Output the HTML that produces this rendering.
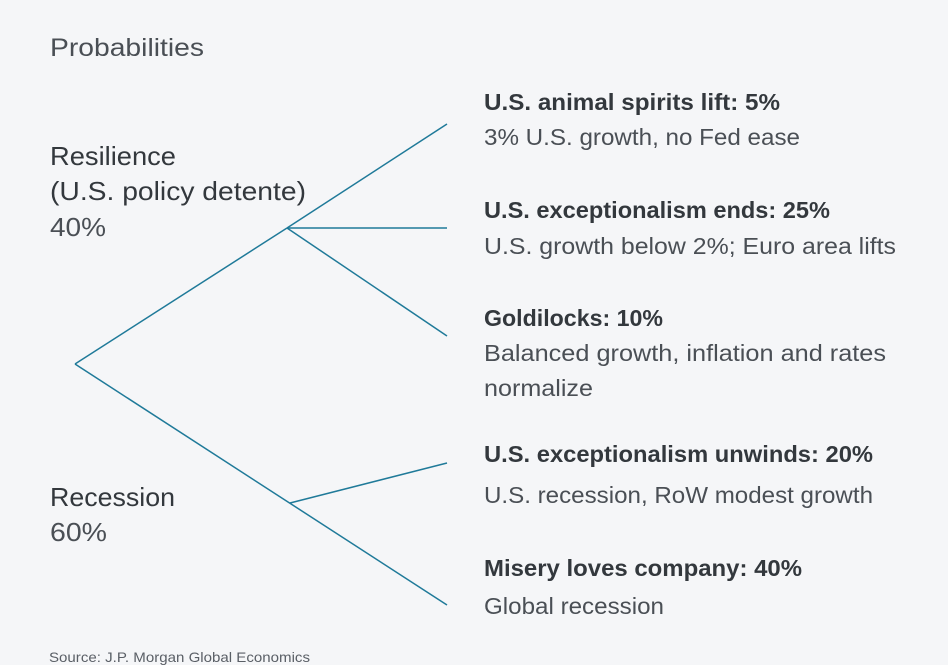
<!DOCTYPE html>
<html><head><meta charset="utf-8"><style>
html,body{margin:0;padding:0;background:#f5f6f8;}
svg{display:block;font-family:"Liberation Sans",sans-serif;}
</style></head><body>
<svg width="948" height="665" viewBox="0 0 948 665">
<rect width="948" height="665" fill="#f5f6f8"/>
<text x="50" y="56" font-size="25" fill="#4a4f55" textLength="154" lengthAdjust="spacingAndGlyphs">Probabilities</text>
<g id="edges"></g>
<g fill="#33383d" font-size="26" lengthAdjust="spacingAndGlyphs">
<text x="50" y="165" textLength="126" lengthAdjust="spacingAndGlyphs">Resilience</text>
<text x="50" y="200" textLength="256" lengthAdjust="spacingAndGlyphs">(U.S. policy detente)</text>
<text x="50" y="236" fill="#4a4f55" textLength="56" lengthAdjust="spacingAndGlyphs">40%</text>
<text x="50" y="506" textLength="125" lengthAdjust="spacingAndGlyphs">Recession</text>
<text x="50" y="541" fill="#4a4f55" textLength="57" lengthAdjust="spacingAndGlyphs">60%</text>
</g>
<g font-size="23">
<text x="484" y="110" fill="#33383d" font-weight="bold" textLength="296" lengthAdjust="spacingAndGlyphs">U.S. animal spirits lift: 5%</text>
<text x="484" y="145" fill="#4a4f55" textLength="316" lengthAdjust="spacingAndGlyphs">3% U.S. growth, no Fed ease</text>
<text x="484" y="218" fill="#33383d" font-weight="bold" textLength="346" lengthAdjust="spacingAndGlyphs">U.S. exceptionalism ends: 25%</text>
<text x="484" y="254" fill="#4a4f55" textLength="412" lengthAdjust="spacingAndGlyphs">U.S. growth below 2%; Euro area lifts</text>
<text x="484" y="326" fill="#33383d" font-weight="bold" textLength="179" lengthAdjust="spacingAndGlyphs">Goldilocks: 10%</text>
<text x="484" y="361" fill="#4a4f55" textLength="402" lengthAdjust="spacingAndGlyphs">Balanced growth, inflation and rates</text>
<text x="484" y="396" fill="#4a4f55" textLength="109" lengthAdjust="spacingAndGlyphs">normalize</text>
<text x="484" y="462" fill="#33383d" font-weight="bold" textLength="389" lengthAdjust="spacingAndGlyphs">U.S. exceptionalism unwinds: 20%</text>
<text x="484" y="503" fill="#4a4f55" textLength="389" lengthAdjust="spacingAndGlyphs">U.S. recession, RoW modest growth</text>
<text x="484" y="576" fill="#33383d" font-weight="bold" textLength="318" lengthAdjust="spacingAndGlyphs">Misery loves company: 40%</text>
<text x="484" y="614" fill="#4a4f55" textLength="180" lengthAdjust="spacingAndGlyphs">Global recession</text>
</g>
<text x="49" y="662" font-size="14" fill="#5a5f66" textLength="261" lengthAdjust="spacingAndGlyphs">Source: J.P. Morgan Global Economics</text>
</svg>
<script>
const edgeFrom = [[75,364],[287,228],[287,228],[287,228],[75,364],[290,503]];
const edgeTo = [[287,228],[447,124],[447,228],[447,336],[447,605],[447,463]];
const g = document.getElementById('edges');
for (let i = 0; i < edgeFrom.length; i++) {
  const l = document.createElementNS('http://www.w3.org/2000/svg','line');
  l.setAttribute('x1', edgeFrom[i][0]); l.setAttribute('y1', edgeFrom[i][1]);
  l.setAttribute('x2', edgeTo[i][0]); l.setAttribute('y2', edgeTo[i][1]);
  l.setAttribute('stroke', '#1f7a99'); l.setAttribute('stroke-width', '1.5');
  
  
  g.appendChild(l);
}
</script>
</body></html>
